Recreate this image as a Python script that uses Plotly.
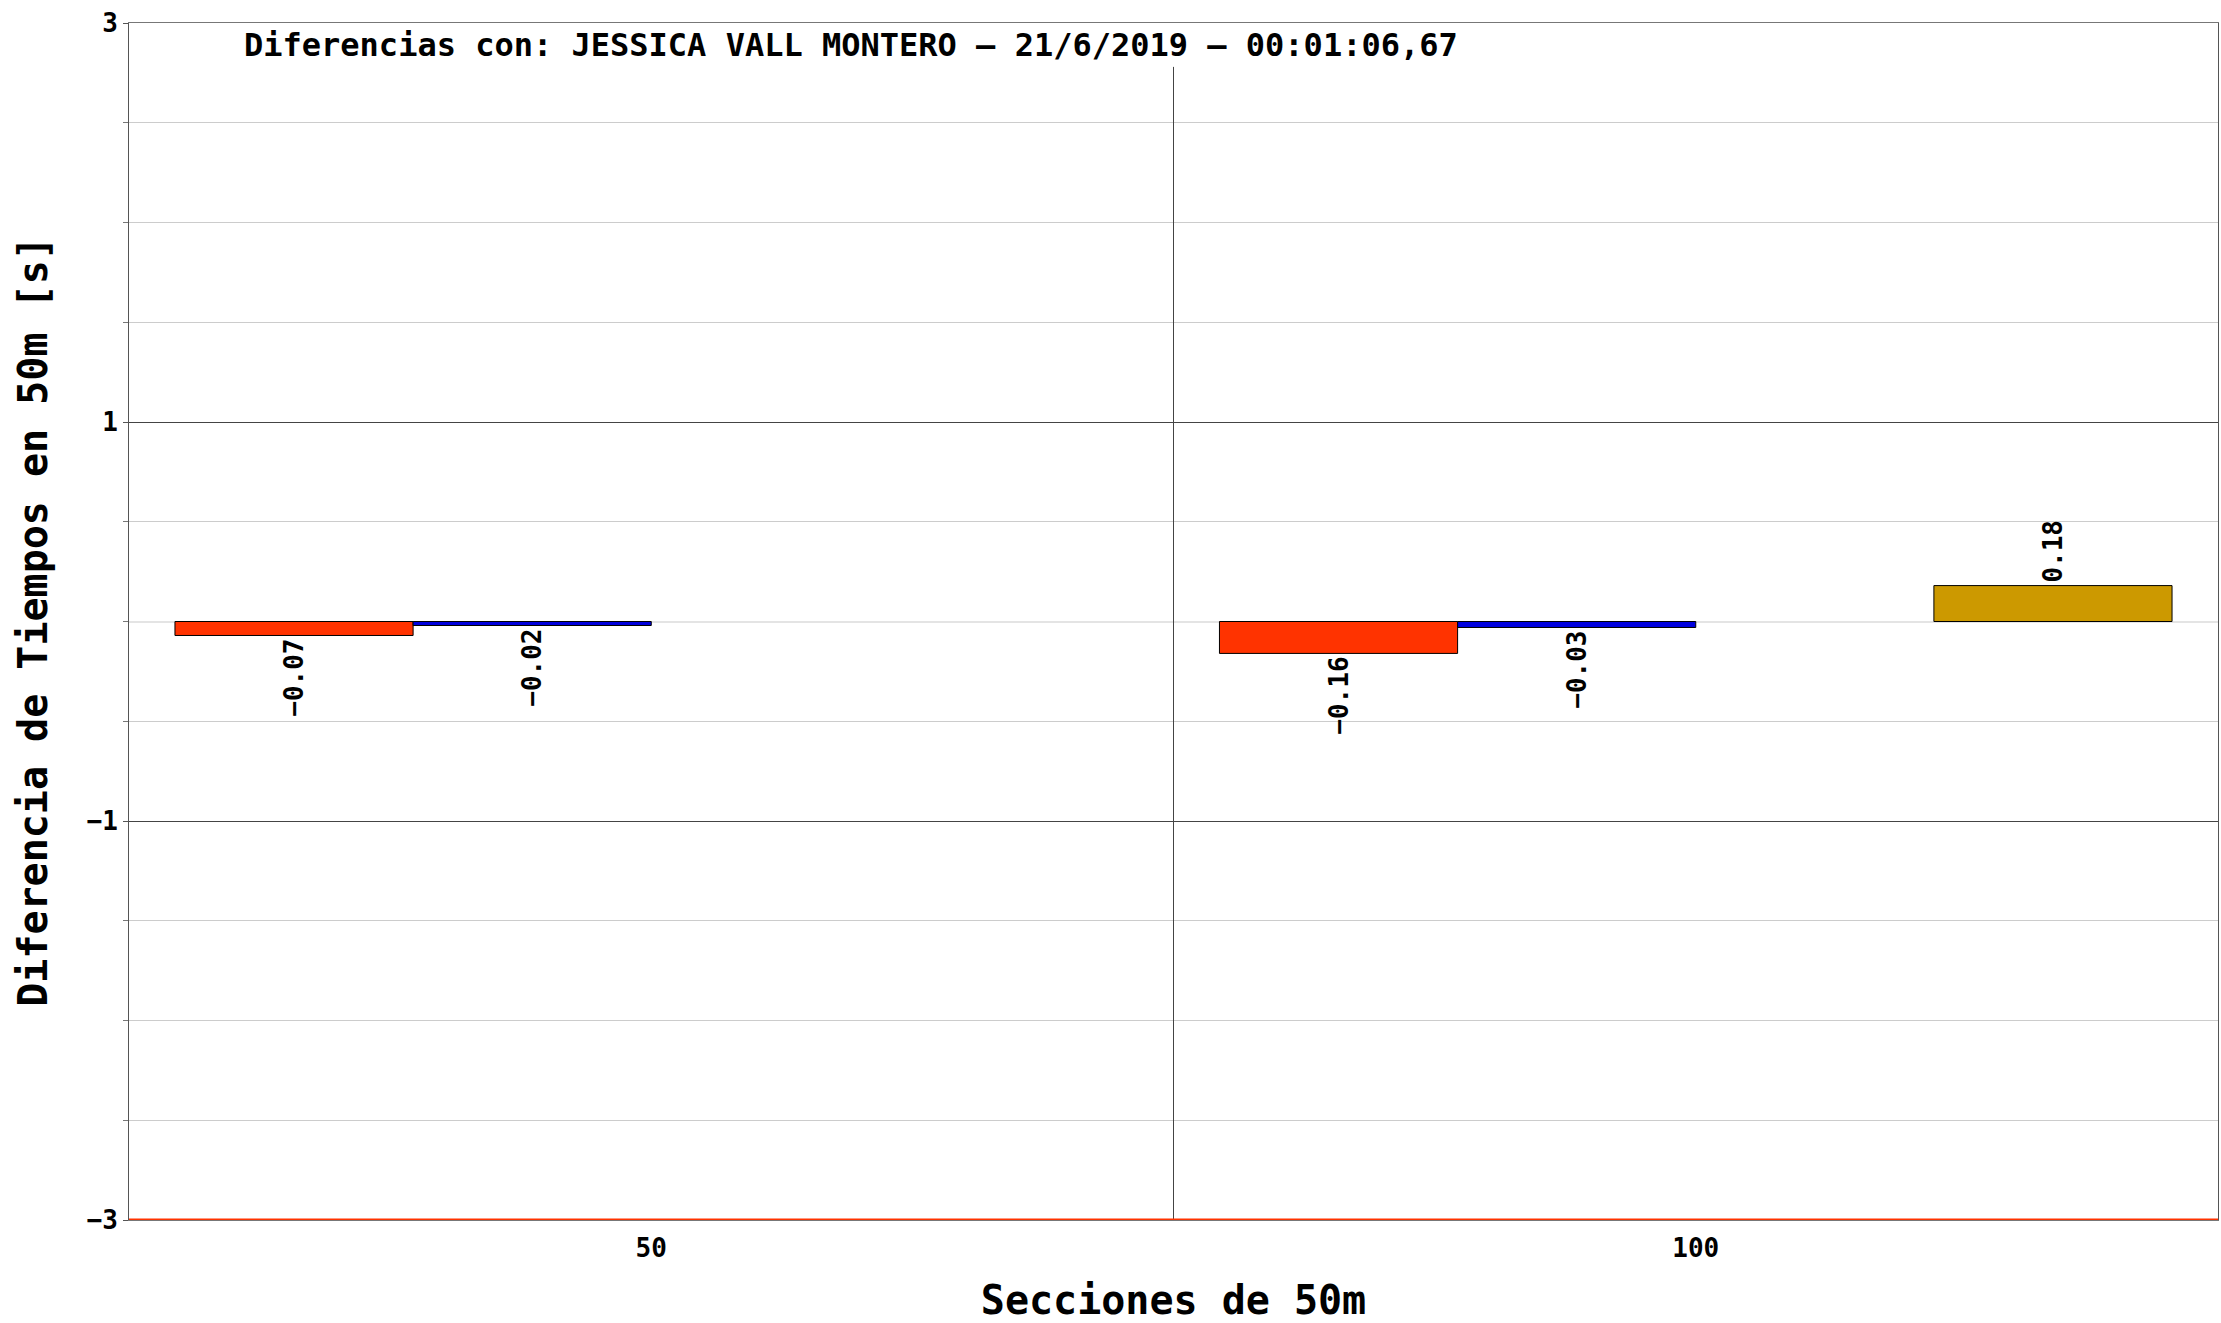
import plotly.graph_objects as go

categories = ["50", "100"]
serie_1 = [-0.07, -0.16]
serie_2 = [-0.02, -0.03]
serie_3 = [None, None]
serie_4 = [None, 0.18]

title_text = "Diferencias con: JESSICA VALL MONTERO – 21/6/2019 – 00:01:06,67"
x_title = "Secciones de 50m"
y_title = "Diferencia de Tiempos en 50m [s]"
y_tickvals = [-3, -1, 1, 3]

FONT = "DejaVu Sans Mono"
colors = ["#FF3300", "#0000DD", "#888888", "#CC9900"]


def fmt(v):
    return "" if v is None else f"{v:.2f}".replace("-", "\u2212")


fig = go.Figure()
for name, vals, col in zip(["Serie 1", "Serie 2", "Serie 3", "Serie 4"],
                           [serie_1, serie_2, serie_3, serie_4], colors):
    fig.add_trace(go.Bar(
        x=categories, y=vals, name=name,
        text=[fmt(v) for v in vals], texttemplate="%{text}",
        marker=dict(color=col, line=dict(color="black", width=1)),
        textposition="outside", textangle=-90,
        textfont=dict(family=FONT, size=26, color="black", weight="bold"),
        cliponaxis=False,
    ))

fig.update_layout(
    width=2221, height=1323,
    barmode="group", bargap=0.088, bargroupgap=0,
    showlegend=False,
    plot_bgcolor="white", paper_bgcolor="white",
    margin=dict(l=129, r=3, t=23, b=103, autoexpand=False),
    font=dict(family=FONT, color="black", weight="bold"),
)
fig.update_xaxes(
    type="category", range=[-0.5, 1.5],
    showgrid=False, showline=True, linecolor="#777777", linewidth=1, mirror=True,
    ticks="", ticklabelstandoff=5, tickfont=dict(family=FONT, size=26, weight="bold"),
    title=dict(text=x_title, font=dict(family=FONT, size=40, weight="bold"), standoff=24),
)
fig.update_yaxes(
    range=[-3, 3], tickmode="array", tickvals=y_tickvals,
    showgrid=True, gridcolor="#444444", gridwidth=1,
    zeroline=True, zerolinecolor="#e4e4e4", zerolinewidth=2,
    showline=True, linecolor="#555555", linewidth=1, mirror=True,
    ticks="outside", ticklen=5, tickcolor="#555555",
    tickfont=dict(family=FONT, size=26, weight="bold"),
    minor=dict(dtick=0.5, tick0=0, showgrid=True, gridcolor="#cccccc", gridwidth=1,
               ticks="outside", ticklen=5, tickcolor="#777777"),
    title=dict(text=y_title, font=dict(family=FONT, size=40, weight="bold"), standoff=26),
)
fig.add_shape(type="line", xref="x", yref="y", x0=0.5, x1=0.5, y0=-3, y1=2.78,
              line=dict(color="#444444", width=1))
fig.add_shape(type="line", xref="paper", yref="y", x0=0, x1=1, y0=-3, y1=-3,
              line=dict(color="#FF3300", width=3))
fig.add_annotation(text=title_text, xref="paper", yref="paper", x=0.054, y=0.9816,
                   xanchor="left", yanchor="middle", showarrow=False,
                   font=dict(family=FONT, size=32, weight="bold", color="black"))

fig.write_html("out.html", config={"displayModeBar": False},
               post_script="document.body.style.margin='0';document.body.style.overflow='hidden';")
